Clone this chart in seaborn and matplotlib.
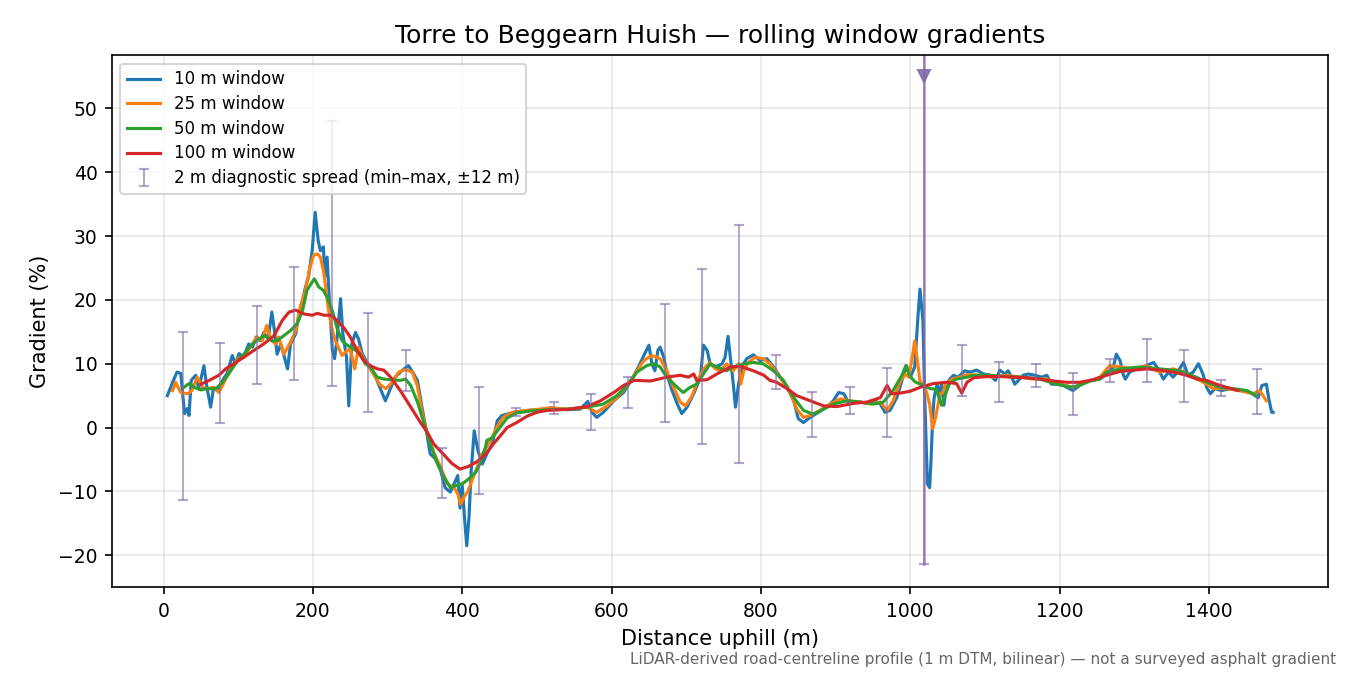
import matplotlib.pyplot as plt
import seaborn as sns
import numpy as np
import pandas as pd

# values (distance in m, gradient in %)
dist_10 = [5, 12, 18, 23, 26, 28, 32, 34, 37, 43, 47, 54, 58, 63, 67, 72, 79, 85, 92, 96,
           101, 107, 114, 119, 124, 130, 134, 140, 145, 149, 152, 157, 160, 166, 170, 177, 181, 186, 190, 194,
           199, 203, 207, 210, 214, 216, 219, 222, 226, 229, 232, 237, 240, 245, 248, 252, 257, 261, 266, 275,
           284, 290, 297, 302, 310, 322, 328, 335, 340, 346, 353, 357, 364, 371, 377, 384, 389, 394, 397, 400,
           403, 406, 409, 412, 416, 421, 427, 433, 440, 447, 453, 460, 469, 487, 505, 518, 540, 558, 568, 574,
           580, 589, 603, 616, 629, 638, 644, 650, 654, 658, 662, 665, 670, 674, 681, 688, 694, 701, 710, 719,
           723, 728, 732, 737, 743, 748, 752, 756, 760, 763, 766, 770, 775, 781, 790, 799, 808, 817, 826, 835,
           844, 850, 857, 866, 877, 888, 897, 904, 911, 917, 928, 942, 953, 960, 966, 973, 982, 989, 995, 1000,
           1006, 1010, 1013, 1017, 1019, 1021, 1023, 1026, 1028, 1030, 1032, 1036, 1039, 1042, 1045, 1049, 1053, 1058, 1064, 1073,
           1080, 1089, 1098, 1107, 1114, 1120, 1127, 1131, 1136, 1140, 1145, 1151, 1158, 1167, 1176, 1183, 1189, 1196, 1205, 1218,
           1227, 1241, 1254, 1263, 1272, 1276, 1281, 1285, 1288, 1294, 1303, 1312, 1326, 1332, 1339, 1346, 1352, 1359, 1366, 1372,
           1379, 1386, 1392, 1397, 1402, 1408, 1417, 1428, 1442, 1455, 1466, 1471, 1477, 1480, 1484, 1486]
grad_10 = [5.0, 7.1, 8.7, 8.5, 4.8, 2.2, 3.0, 1.9, 7.4, 8.2, 6.1, 9.7, 6.3, 3.2, 6.3, 5.8, 7.4, 8.5, 11.3, 10.0,
           11.6, 11.0, 13.1, 12.6, 14.2, 13.6, 14.9, 13.9, 18.1, 14.7, 11.5, 13.1, 11.8, 9.2, 13.1, 14.7, 17.6, 19.9, 22.0, 23.6,
           27.7, 33.7, 29.3, 27.7, 28.3, 23.6, 26.7, 19.9, 12.1, 10.8, 13.6, 20.2, 14.7, 11.0, 3.4, 13.1, 14.9, 13.9, 11.6, 9.7,
           7.9, 6.2, 4.2, 5.6, 7.9, 9.2, 9.7, 8.4, 7.4, 3.2, -1.2, -4.1, -4.9, -6.7, -9.4, -10.1, -8.8, -7.5, -12.6, -9.1,
           -14.1, -18.5, -14.1, -6.7, -0.5, -3.6, -5.7, -4.1, -2.6, 1.1, 1.9, 2.1, 2.4, 2.7, 2.8, 3.1, 2.8, 2.9, 4.1, 2.4,
           1.6, 2.4, 4.2, 5.5, 7.9, 10.0, 11.5, 12.9, 10.0, 8.9, 12.1, 12.6, 11.0, 8.4, 5.8, 3.7, 2.2, 3.2, 5.3, 7.9,
           12.9, 12.1, 10.0, 9.5, 9.7, 10.0, 11.0, 14.3, 10.0, 6.8, 3.2, 6.8, 9.7, 10.8, 11.4, 10.5, 10.8, 9.5, 7.9, 6.3,
           4.2, 1.4, 0.8, 1.6, 2.4, 3.2, 4.2, 5.5, 5.3, 4.0, 4.1, 3.8, 4.2, 3.7, 2.4, 2.7, 4.7, 7.4, 9.7, 7.9,
           9.5, 16.8, 21.7, 16.8, 6.3, -1.5, -8.8, -9.4, -4.7, 1.6, 4.7, 6.8, 5.3, 6.8, 3.5, 6.8, 7.6, 8.2, 7.9, 8.9,
           8.7, 9.0, 8.4, 8.2, 7.4, 9.0, 8.4, 8.9, 7.9, 6.8, 7.4, 8.2, 8.4, 8.2, 7.9, 8.2, 6.8, 6.8, 6.6, 5.8,
           6.6, 7.4, 7.6, 8.4, 9.5, 11.5, 10.5, 8.4, 7.6, 8.7, 9.2, 9.5, 10.2, 9.2, 7.6, 8.7, 7.9, 8.9, 10.2, 8.2,
           8.7, 10.0, 8.4, 6.3, 5.3, 6.1, 5.8, 6.1, 5.8, 5.5, 4.7, 6.6, 6.8, 4.7, 2.4, 2.4]

dist_25 = [12, 16, 23, 32, 38, 45, 52, 58, 67, 74, 81, 90, 99, 107, 116, 125, 132, 138, 143, 150,
           154, 161, 170, 177, 183, 190, 196, 201, 206, 210, 214, 217, 221, 226, 230, 235, 239, 246, 250, 256,
           261, 268, 281, 290, 298, 306, 315, 324, 333, 340, 346, 353, 362, 371, 380, 389, 394, 398, 402, 407,
           413, 420, 424, 431, 438, 447, 455, 467, 487, 496, 518, 540, 567, 580, 594, 607, 621, 634, 643, 654,
           665, 674, 683, 692, 699, 708, 716, 723, 732, 739, 746, 754, 763, 770, 773, 777, 783, 792, 803, 812,
           821, 830, 839, 848, 857, 866, 879, 893, 906, 919, 933, 947, 960, 969, 977, 986, 993, 998, 1002, 1006,
           1009, 1013, 1018, 1022, 1026, 1030, 1034, 1040, 1044, 1047, 1056, 1066, 1076, 1094, 1111, 1129, 1147, 1165, 1183, 1201,
           1218, 1236, 1254, 1267, 1281, 1299, 1317, 1334, 1352, 1366, 1379, 1397, 1406, 1424, 1442, 1459, 1468, 1477]
grad_25 = [5.8, 7.1, 5.5, 5.3, 5.8, 7.9, 6.3, 6.1, 6.3, 5.5, 7.1, 9.2, 10.8, 11.3, 12.6, 14.2, 13.6, 16.0, 13.9, 13.1,
           14.2, 11.5, 13.4, 15.2, 18.9, 21.5, 25.1, 27.0, 27.2, 26.7, 24.6, 22.0, 18.3, 15.2, 13.6, 12.3, 11.3, 12.1, 12.3, 9.2,
           12.6, 10.8, 8.4, 6.7, 6.1, 7.1, 8.7, 9.1, 8.7, 6.5, 2.5, -1.0, -3.9, -6.2, -8.8, -9.4, -10.4, -12.0, -10.9, -10.1,
           -8.3, -6.2, -4.7, -3.3, -2.0, 0.2, 1.6, 2.4, 2.7, 2.8, 3.1, 2.9, 3.2, 2.4, 3.4, 4.7, 6.6, 8.9, 10.5, 11.3,
           10.8, 8.9, 6.3, 4.0, 3.4, 5.0, 7.6, 9.2, 10.2, 9.2, 8.9, 10.0, 8.9, 10.0, 6.8, 8.9, 10.2, 11.0, 10.8, 10.0,
           8.7, 7.1, 5.5, 2.9, 1.6, 1.9, 2.7, 3.7, 4.5, 4.2, 4.0, 3.7, 4.0, 2.7, 4.2, 7.1, 8.4, 7.9, 10.5, 13.6,
           11.0, 7.3, 6.6, 5.5, 3.7, -0.2, 1.6, 5.3, 5.5, 6.8, 7.6, 7.9, 8.3, 8.2, 7.9, 8.2, 7.9, 7.6, 7.6, 6.8,
           6.3, 7.1, 7.9, 9.7, 9.5, 9.2, 9.7, 8.7, 9.2, 8.7, 7.9, 6.8, 6.1, 6.1, 5.8, 5.3, 5.8, 4.2]

dist_50 = [27, 34, 41, 50, 58, 70, 79, 90, 99, 110, 119, 128, 136, 145, 152, 161, 170, 179, 186, 192,
           199, 202, 208, 214, 219, 226, 232, 239, 246, 255, 264, 270, 277, 286, 295, 304, 317, 324, 331, 340,
           348, 357, 366, 375, 384, 391, 400, 409, 418, 424, 431, 433, 440, 449, 460, 473, 491, 514, 540, 567,
           589, 607, 621, 634, 647, 656, 665, 674, 688, 696, 705, 714, 723, 732, 741, 754, 763, 777, 790, 803,
           817, 830, 844, 857, 870, 884, 897, 915, 933, 951, 964, 977, 989, 994, 999, 1006, 1017, 1027, 1035, 1042,
           1047, 1053, 1062, 1076, 1085, 1107, 1129, 1151, 1174, 1196, 1218, 1241, 1254, 1263, 1281, 1308, 1334, 1361, 1383, 1397,
           1415, 1433, 1451, 1464]
grad_50 = [6.3, 6.9, 6.3, 5.9, 6.1, 6.1, 7.1, 8.9, 10.5, 11.8, 13.1, 13.9, 14.4, 13.6, 13.6, 14.4, 15.2, 16.3, 18.3, 21.5,
           22.8, 23.3, 22.0, 21.5, 20.4, 18.3, 15.7, 13.6, 12.9, 12.3, 11.5, 10.0, 9.5, 7.9, 7.6, 7.5, 7.4, 7.6, 6.6, 4.0,
           1.0, -2.5, -5.4, -7.6, -9.4, -9.1, -8.8, -8.0, -7.0, -5.6, -3.1, -2.0, -1.6, -0.2, 1.5, 2.3, 2.6, 2.8, 2.9, 3.2,
           3.7, 5.0, 6.6, 8.7, 9.7, 10.0, 9.5, 7.9, 6.3, 5.5, 6.3, 6.8, 8.4, 10.0, 9.5, 8.9, 9.5, 10.0, 10.2, 10.0,
           8.9, 7.4, 4.7, 2.7, 2.1, 2.9, 3.7, 4.2, 4.0, 3.7, 4.0, 5.8, 8.2, 9.7, 8.2, 7.2, 6.6, 6.1, 6.0, 3.5,
           5.2, 7.0, 7.6, 7.9, 8.2, 8.2, 8.0, 7.9, 7.6, 6.8, 6.3, 7.3, 7.6, 8.7, 9.2, 9.5, 9.2, 8.9, 7.9, 7.1,
           6.3, 6.1, 5.8, 5.0]

dist_100 = [50, 61, 74, 83, 94, 107, 121, 134, 148, 159, 168, 177, 188, 199, 206, 215, 224, 232, 241, 250,
            259, 268, 277, 286, 295, 304, 317, 330, 344, 353, 362, 375, 386, 397, 408, 420, 431, 442, 453, 460,
            473, 487, 500, 514, 531, 545, 567, 585, 603, 616, 630, 652, 674, 692, 703, 710, 714, 728, 741, 759,
            772, 790, 804, 812, 821, 835, 848, 866, 884, 902, 924, 942, 960, 969, 975, 986, 1000, 1013, 1031, 1049,
            1062, 1069, 1076, 1085, 1102, 1120, 1138, 1156, 1174, 1192, 1210, 1227, 1245, 1263, 1281, 1299, 1317, 1334, 1352, 1370,
            1384, 1397, 1410, 1424, 1439]
grad_100 = [6.8, 7.4, 8.2, 9.2, 10.0, 11.0, 12.1, 13.1, 14.4, 16.8, 18.1, 18.4, 17.8, 17.6, 17.9, 17.6, 17.6, 16.8, 15.7, 14.2,
            12.1, 10.5, 9.7, 9.2, 9.0, 7.9, 5.8, 3.4, 0.8, -0.7, -2.6, -4.2, -5.6, -6.5, -6.1, -5.3, -4.2, -2.5, -1.0, 0.0,
            0.8, 1.8, 2.4, 2.7, 2.8, 2.9, 3.3, 4.2, 5.5, 6.6, 7.4, 7.3, 7.9, 8.2, 7.9, 8.4, 7.4, 7.5, 8.4, 9.5,
            9.6, 8.9, 8.2, 7.4, 7.1, 6.1, 5.0, 4.2, 3.4, 3.3, 3.8, 4.0, 4.7, 6.6, 5.3, 5.4, 5.7, 6.3, 6.9, 7.1,
            6.9, 5.4, 7.1, 7.8, 8.0, 8.0, 7.9, 7.8, 7.6, 7.3, 7.1, 7.1, 7.5, 8.2, 8.8, 9.0, 9.2, 9.0, 8.7, 8.2,
            7.6, 7.4, 6.8, 6.3, 5.8]

# 2 m diagnostic spread (min / max over +-12 m)
spread_x = [26, 76, 125, 175, 225, 274, 324, 373, 423, 472, 523, 572, 622, 671, 721,
            770, 820, 869, 919, 969, 1018, 1069, 1119, 1168, 1218, 1267, 1317, 1366, 1416, 1465]
spread_min = [-11.3, 0.8, 6.9, 7.4, 6.5, 2.4, 5.7, -11.1, -10.4, 1.8, 2.2, -0.3, 3.0, 0.9, -2.5,
              -5.6, 6.1, -1.5, 2.1, -1.4, -21.3, 5.0, 4.0, 6.4, 2.0, 7.2, 7.1, 4.0, 4.9, 2.2]
spread_max = [14.9, 13.3, 19.0, 25.1, 48.0, 17.9, 12.1, -3.2, 6.3, 3.0, 4.0, 5.2, 8.0, 19.3, 24.8,
              31.8, 11.4, 5.5, 6.3, 9.3, 75.0, 13.0, 10.2, 10.0, 8.6, 10.7, 13.8, 12.1, 7.4, 9.2]

windows = [(dist_10, grad_10, "10 m window"), (dist_25, grad_25, "25 m window"),
           (dist_50, grad_50, "50 m window"), (dist_100, grad_100, "100 m window")]
colors = sns.color_palette("tab10", 4)

y_lo, y_hi = -25, 58.3
clip_mark = 55

fig, ax = plt.subplots(figsize=(9, 4.5), dpi=150)
fig.subplots_adjust(left=0.083, right=0.984, top=0.918, bottom=0.13)

for (d, g, lab), c in zip(windows, colors):
    df = pd.DataFrame({"dist": d, "grad": g})
    sns.lineplot(data=df, x="dist", y="grad", ax=ax, color=c, lw=1.5, label=lab)

lo = np.array(spread_min)
hi = np.array(spread_max)
ax.errorbar(spread_x, lo, yerr=[np.zeros_like(lo), hi - lo], fmt="none",
            ecolor="#7f6aa8", alpha=0.6, elinewidth=0.9, capsize=2.5,
            label="2 m diagnostic spread (min\u2013max, \u00b112 m)")

# spread that runs off the top of the axis
off = hi > y_hi
for x, l in zip(np.array(spread_x)[off], lo[off]):
    ax.plot([x, x], [l, y_hi], color="#7f6aa8", alpha=0.65, lw=1.3)
    ax.plot([x], [clip_mark], marker="v", ms=6, color="#7f6aa8", alpha=0.85, ls="none")

ax.set_ylim(y_lo, y_hi)
ax.grid(True, alpha=0.3)
ax.tick_params(labelsize=9)
ax.set_xlabel("Distance uphill (m)", fontsize=10)
ax.set_ylabel("Gradient (%)", fontsize=10)
ax.set_title("Torre to Beggearn Huish \u2014 rolling window gradients", fontsize=12)
ax.legend(loc="upper left", fontsize=8, labelspacing=0.4)

fig.text(0.99, 0.012, "LiDAR-derived road-centreline profile (1 m DTM, bilinear) \u2014 not a surveyed asphalt gradient",
         ha="right", va="bottom", fontsize=7.3, color="#666666")

plt.savefig("out.png")
plt.close()
